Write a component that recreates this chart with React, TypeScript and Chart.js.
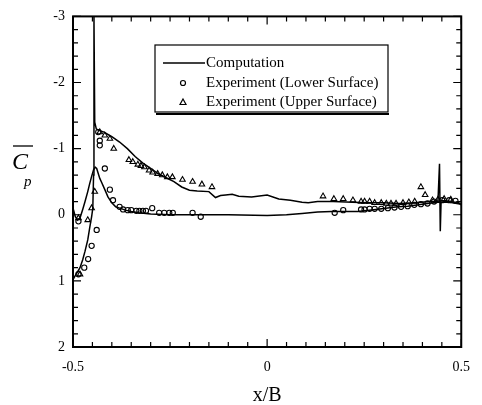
import React, { useEffect, useRef } from 'react';
import { Chart, registerables } from 'chart.js';

Chart.register(...registerables);

const FONT = "'Liberation Serif', 'Times New Roman', serif";

// Computation, upper branch (rises from lower-left, spikes, then upper surface)
const compUpperX = [
  -0.499, -0.49, -0.482, -0.475, -0.469,
  -0.462, -0.457, -0.452, -0.449, -0.447,
  -0.446, -0.444, -0.44, -0.435, -0.42,
  -0.40, -0.38, -0.36, -0.34, -0.32,
  -0.30, -0.28, -0.26, -0.24, -0.22,
  -0.20, -0.18, -0.15, -0.133, -0.12,
  -0.107, -0.09, -0.073, -0.04, 0.0,
  0.03, 0.06, 0.09, 0.106, 0.13,
  0.17, 0.22, 0.26, 0.30, 0.34,
  0.38, 0.42, 0.44, 0.444, 0.446,
  0.448, 0.46, 0.48, 0.492, 0.50,
];
const compUpperY = [
  0.97, 0.88, 0.8, 0.68, 0.55,
  0.38, 0.2, 0.03, -0.1, -0.6,
  -3.0, -1.4, -1.3, -1.28, -1.25,
  -1.18, -1.1, -1.0, -0.88, -0.78,
  -0.7, -0.62, -0.56, -0.5, -0.42,
  -0.37, -0.36, -0.35, -0.26, -0.29,
  -0.3, -0.31, -0.28, -0.27, -0.3,
  -0.24, -0.22, -0.19, -0.18, -0.2,
  -0.2, -0.19, -0.18, -0.18, -0.17,
  -0.18, -0.2, -0.2, -0.77, 0.25,
  -0.19, -0.2, -0.19, -0.19, -0.15,
];

// Computation, lower branch
const compLowerX = [
  -0.499, -0.494, -0.488, -0.482, -0.475,
  -0.469, -0.462, -0.457, -0.452, -0.447,
  -0.443, -0.439, -0.431, -0.427, -0.418,
  -0.41, -0.40, -0.39, -0.38, -0.365,
  -0.35, -0.33, -0.30, -0.25, -0.20,
  -0.10, 0.0, 0.05, 0.09, 0.13,
  0.166, 0.20, 0.234, 0.28, 0.336,
  0.362, 0.39, 0.413, 0.44, 0.47,
  0.50,
];
const compLowerY = [
  -0.08, 0.03, 0.08, 0.05, -0.08,
  -0.2, -0.35, -0.47, -0.58, -0.68,
  -0.72, -0.7, -0.55, -0.5, -0.38,
  -0.27, -0.18, -0.12, -0.1, -0.07,
  -0.05, -0.03, -0.01, 0.0, 0.0,
  0.0, 0.01, 0.0, -0.02, -0.04,
  -0.05, -0.05, -0.05, -0.08, -0.12,
  -0.13, -0.15, -0.17, -0.19, -0.19,
  -0.16,
];

// Experiment (Lower Surface) - circles
const expLowerX = [
  -0.486, -0.471, -0.461, -0.452, -0.439, -0.486, -0.435, -0.431, -0.431, -0.418,
  -0.405, -0.397, -0.38, -0.371, -0.359, -0.35, -0.337, -0.329, -0.32, -0.312,
  -0.296, -0.278, -0.265, -0.252, -0.243, -0.192, -0.171, 0.174, 0.196, 0.242,
  0.251, 0.264, 0.277, 0.294, 0.311, 0.328, 0.345, 0.362, 0.379, 0.396,
  0.413, 0.43, 0.451, 0.469, 0.485,
];
const expLowerY = [
  0.90, 0.80, 0.67, 0.47, 0.23, 0.10, -1.25, -1.12, -1.05, -0.70,
  -0.38, -0.22, -0.12, -0.08, -0.07, -0.07, -0.06, -0.06, -0.06, -0.06,
  -0.10, -0.03, -0.03, -0.03, -0.03, -0.03, 0.03, -0.03, -0.07, -0.08,
  -0.08, -0.09, -0.09, -0.09, -0.10, -0.11, -0.12, -0.13, -0.15, -0.16,
  -0.17, -0.20, -0.22, -0.22, -0.21,
];

// Experiment (Upper Surface) - triangles
const expUpperX = [
  -0.482, -0.486, -0.462, -0.452, -0.444, -0.431, -0.418, -0.405, -0.395, -0.356,
  -0.346, -0.333, -0.325, -0.316, -0.304, -0.295, -0.282, -0.27, -0.257, -0.244,
  -0.218, -0.192, -0.168, -0.142, 0.144, 0.172, 0.196, 0.221, 0.242, 0.251,
  0.264, 0.277, 0.294, 0.307, 0.319, 0.332, 0.35, 0.365, 0.38, 0.396,
  0.407, 0.426, 0.44, 0.456, 0.473,
];
const expUpperY = [
  0.90, 0.05, 0.08, -0.10, -0.35, -1.25, -1.20, -1.15, -1.00, -0.83,
  -0.80, -0.76, -0.74, -0.72, -0.67, -0.64, -0.62, -0.60, -0.57, -0.57,
  -0.53, -0.50, -0.46, -0.42, -0.28, -0.24, -0.24, -0.22, -0.20, -0.20,
  -0.20, -0.18, -0.18, -0.17, -0.17, -0.17, -0.18, -0.19, -0.20, -0.42,
  -0.30, -0.22, -0.23, -0.24, -0.23,
];

const xRange = [-0.5, 0.5];
const yRange = [-3, 2];
const xLabelEvery = 0.5;
const xMinorStep = 0.05;
const yMinorStep = 0.2;
const xTitle = 'x/B';
const legendLabels = ['Computation', 'Experiment (Lower Surface)', 'Experiment (Upper Surface)'];

const pts = (xs: number[], ys: number[]) => xs.map((x, i) => ({ x, y: ys[i] }));

const framePlugin = {
  id: 'framePlugin',
  afterDraw(chart: any) {
    const { ctx, chartArea: a, scales } = chart;
    const xs = scales.x;
    const ys = scales.y;
    ctx.save();
    ctx.strokeStyle = '#000';
    ctx.fillStyle = '#000';
    ctx.lineWidth = 2;
    ctx.strokeRect(a.left, a.top, a.right - a.left, a.bottom - a.top);
    ctx.lineWidth = 1.2;
    ctx.beginPath();
    xs.ticks.forEach((t: any) => {
      const p = xs.getPixelForValue(t.value);
      const L = t.label ? 8 : 5;
      ctx.moveTo(p, a.bottom);
      ctx.lineTo(p, a.bottom - L);
      ctx.moveTo(p, a.top);
      ctx.lineTo(p, a.top + L);
    });
    ys.ticks.forEach((t: any) => {
      const p = ys.getPixelForValue(t.value);
      const L = t.label ? 8 : 5;
      ctx.moveTo(a.left, p);
      ctx.lineTo(a.left + L, p);
      ctx.moveTo(a.right, p);
      ctx.lineTo(a.right - L, p);
    });
    ctx.stroke();

    // x title
    ctx.font = `20px ${FONT}`;
    ctx.textAlign = 'center';
    ctx.textBaseline = 'alphabetic';
    ctx.fillText(xTitle, (a.left + a.right) / 2, 401);

    // y title: C-bar with subscript p
    ctx.font = `italic 24px ${FONT}`;
    ctx.textAlign = 'left';
    ctx.fillText('C', 12, 169);
    ctx.font = `italic 15px ${FONT}`;
    ctx.fillText('p', 24, 186);
    ctx.lineWidth = 1.3;
    ctx.beginPath();
    ctx.moveTo(13, 146);
    ctx.lineTo(33, 146);
    ctx.stroke();

    // legend
    const bx = 155, by = 45, bw = 233, bh = 67;
    ctx.lineWidth = 1.2;
    ctx.strokeRect(bx, by, bw, bh);
    ctx.lineWidth = 2;
    ctx.beginPath();
    ctx.moveTo(bx + 1, by + bh + 2);
    ctx.lineTo(bx + bw + 1, by + bh + 2);
    ctx.stroke();
    ctx.font = `15px ${FONT}`;
    ctx.textBaseline = 'middle';
    const rows = [63, 83, 102];
    const tx = 206;
    // row 1: line
    ctx.lineWidth = 1.5;
    ctx.beginPath();
    ctx.moveTo(163, rows[0]);
    ctx.lineTo(205, rows[0]);
    ctx.stroke();
    ctx.fillText(legendLabels[0], tx, rows[0]);
    // row 2: circle
    ctx.lineWidth = 1.2;
    ctx.beginPath();
    ctx.arc(183, rows[1], 2.5, 0, Math.PI * 2);
    ctx.stroke();
    ctx.fillText(legendLabels[1], tx, rows[1]);
    // row 3: triangle
    ctx.beginPath();
    ctx.moveTo(183, rows[2] - 3);
    ctx.lineTo(186, rows[2] + 2.5);
    ctx.lineTo(180, rows[2] + 2.5);
    ctx.closePath();
    ctx.stroke();
    ctx.fillText(legendLabels[2], tx, rows[2]);
    ctx.restore();
  },
};

export default function App() {
  const ref = useRef<HTMLCanvasElement | null>(null);
  useEffect(() => {
    if (!ref.current) return;
    const near = (v: number, step: number) => Math.abs(v / step - Math.round(v / step)) < 1e-6;
    const chart = new Chart(ref.current, {
      type: 'scatter',
      data: {
        datasets: [
          {
            label: legendLabels[0],
            data: pts(compUpperX, compUpperY),
            showLine: true,
            borderColor: '#000',
            borderWidth: 1.5,
            pointRadius: 0,
            tension: 0,
          },
          {
            label: legendLabels[0] + ' (lower)',
            data: pts(compLowerX, compLowerY),
            showLine: true,
            borderColor: '#000',
            borderWidth: 1.5,
            pointRadius: 0,
            tension: 0,
          },
          {
            label: legendLabels[1],
            data: pts(expLowerX, expLowerY),
            showLine: false,
            pointStyle: 'circle',
            pointRadius: 2.6,
            borderColor: '#000',
            backgroundColor: 'rgba(255,255,255,0)',
            borderWidth: 1.1,
          },
          {
            label: legendLabels[2],
            data: pts(expUpperX, expUpperY),
            showLine: false,
            pointStyle: 'triangle',
            pointRadius: 3.2,
            borderColor: '#000',
            backgroundColor: 'rgba(255,255,255,0)',
            borderWidth: 1.1,
          },
        ],
      },
      options: {
        responsive: false,
        animation: false,
        layout: { padding: { top: 13, right: 18, left: 0, bottom: 0 } },
        plugins: { legend: { display: false }, tooltip: { enabled: false } },
        scales: {
          x: {
            type: 'linear',
            min: xRange[0],
            max: xRange[1],
            afterFit: (s: any) => { s.height = 58; },
            grid: { display: false, drawTicks: false },
            border: { display: false },
            ticks: {
              stepSize: xMinorStep,
              autoSkip: false,
              maxRotation: 0,
              padding: 12,
              color: '#000',
              font: { family: FONT, size: 14 },
              callback: (v: any) => (near(Number(v), xLabelEvery) ? String(Math.round(Number(v) / xLabelEvery) * xLabelEvery) : ''),
            },
          },
          y: {
            type: 'linear',
            min: yRange[0],
            max: yRange[1],
            reverse: true,
            afterFit: (s: any) => { s.width = 73; },
            grid: { display: false, drawTicks: false },
            border: { display: false },
            ticks: {
              stepSize: yMinorStep,
              autoSkip: false,
              padding: 8,
              color: '#000',
              font: { family: FONT, size: 14 },
              callback: (v: any) => (near(Number(v), 1) ? String(Math.round(Number(v))) : ''),
            },
          },
        },
      },
      plugins: [framePlugin],
    });
    return () => chart.destroy();
  }, []);
  return (
    <div style={{ position: 'fixed', left: 0, top: 0, width: 482, height: 405, background: '#fff' }}>
      <canvas ref={ref} width={482} height={405} />
    </div>
  );
}
